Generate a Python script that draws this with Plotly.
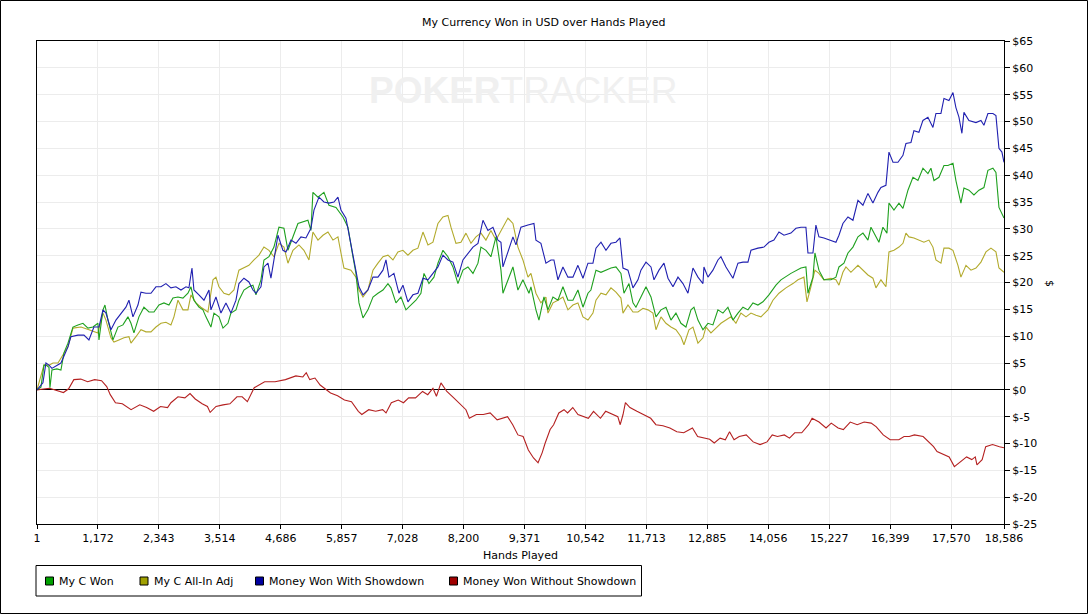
import plotly.graph_objects as go

# ---- data (hands played -> dollars) ----
green_hands = [1, 77, 135, 173, 231, 250, 288, 384, 461, 519, 596, 692, 788, 884, 980, 1076, 1172, 1192, 1269, 1307,
               1365, 1461, 1557, 1653, 1749, 1807, 1864, 1960, 2056, 2153, 2249, 2345, 2441, 2537, 2614, 2710, 2806,
               2902, 2960, 3017, 3113, 3190, 3248, 3344, 3402, 3498, 3575, 3671, 3728, 3825, 3882, 3978, 4074, 4151,
               4209, 4305, 4363, 4459, 4555, 4651, 4747, 4824, 5016, 5208, 5266, 5304, 5401, 5516, 5612, 5747, 5881,
               5977, 6073, 6131, 6189, 6266, 6361, 6458, 6554, 6650, 6746, 6804, 6900, 6996, 7092, 7188, 7284, 7380,
               7438, 7534, 7630, 7707, 7803, 7899, 7995, 8091, 8187, 8283, 8380, 8476, 8533, 8629, 8725, 8822, 8918,
               8956, 9052, 9148, 9244, 9340, 9456, 9494, 9590, 9648, 9744, 9821, 9917, 10013, 10109, 10205, 10301,
               10397, 10494, 10590, 10647, 10744, 10840, 10936, 11032, 11128, 11224, 11282, 11378, 11455, 11512, 11608,
               11705, 11801, 11897, 11993, 12089, 12185, 12281, 12377, 12473, 12570, 12627, 12704, 12800, 12896, 12992,
               13088, 13184, 13280, 13376, 13473, 13569, 13665, 13761, 13857, 13953, 14068, 14203, 14299, 14491, 14683,
               14779, 14818, 14914, 14952, 15029, 15125, 15260, 15356, 15414, 15510, 15587, 15683, 15779, 15875, 15971,
               16029, 16125, 16182, 16259, 16336, 16375, 16471, 16567, 16644, 16740, 16836, 16932, 17028, 17124, 17182,
               17240, 17336, 17432, 17509, 17605, 17662, 17758, 17816, 17912, 18008, 18104, 18200, 18277, 18373, 18431,
               18489, 18586]
my_c_won = [0, 0.5, 4.6, 4.6, 4.2, 0.4, 3.7, 3.9, 3.7, 6.9, 8.7, 11.7, 12.1, 12.4, 11.5, 11.7, 12.4, 9.3, 14.9, 15.8,
            13.0, 9.3, 11.7, 12.1, 13.6, 12.4, 10.6, 13.6, 15.4, 14.5, 14.5, 15.8, 16.2, 15.8, 17.1, 17.3, 17.1,
            18.0, 19.2, 16.7, 15.4, 14.9, 13.6, 11.7, 14.3, 13.6, 11.5, 12.4, 14.3, 14.9, 16.7, 18.6, 19.2, 19.5,
            17.7, 20.5, 24.2, 24.8, 26.6, 30.3, 30.1, 26.0, 31.0, 31.6, 29.7, 36.8, 35.9, 36.8, 34.4, 34.0, 32.2,
            30.3, 24.8, 21.7, 16.2, 13.4, 14.9, 17.3, 18.0, 18.6, 19.8, 19.0, 16.2, 17.3, 14.9, 15.8, 16.7, 18.0,
            21.7, 19.8, 21.0, 23.6, 26.0, 24.8, 22.9, 19.8, 22.3, 22.9, 21.7, 23.6, 26.6, 26.0, 24.8, 28.5, 22.3,
            18.0, 20.5, 22.9, 18.6, 20.5, 18.0, 19.2, 14.9, 13.0, 17.3, 14.9, 17.3, 16.7, 19.2, 16.7, 16.7,
            18.6, 15.4, 18.0, 18.6, 22.3, 21.9, 22.3, 22.7, 22.9, 21.7, 18.0, 19.8, 16.2, 15.4, 17.3,
            19.2, 17.3, 13.6, 14.9, 15.4, 13.0, 14.3, 12.4, 11.7, 14.9, 15.4, 13.0, 11.2, 12.4, 12.1,
            14.9, 14.3, 15.4, 13.0, 14.3, 15.4, 14.9, 16.2, 15.8, 16.4, 17.7, 19.5, 20.5, 21.7, 22.7,
            22.9, 18.0, 21.0, 25.5, 22.3, 20.5, 20.5, 21.0, 22.9, 23.6, 25.5, 26.6, 28.5, 29.2, 27.9,
            30.3, 28.5, 27.5, 30.3, 29.2, 34.8, 33.5, 34.8, 33.8, 37.2, 39.6, 39.0, 41.3, 40.3, 41.3,
            39.0, 39.6, 41.8, 41.8, 42.2, 39.0, 34.8, 37.6, 37.2, 36.3, 37.2, 37.7, 40.9, 41.3, 40.5,
            34.0, 32.0]

olive_hands = [1, 77, 135, 231, 308, 404, 500, 596, 692, 846, 999, 1172, 1269, 1326, 1422, 1480, 1576, 1672, 1768,
               1807, 1903, 1999, 2095, 2191, 2287, 2383, 2479, 2575, 2633, 2710, 2806, 2902, 2960, 3056, 3152, 3286,
               3383, 3440, 3498, 3594, 3690, 3786, 3882, 3978, 4074, 4171, 4267, 4363, 4459, 4555, 4651, 4747, 4824,
               4920, 5035, 5131, 5228, 5304, 5401, 5497, 5593, 5689, 5785, 5843, 5900, 6035, 6131, 6189, 6266, 6361,
               6458, 6554, 6650, 6746, 6842, 6938, 7034, 7130, 7226, 7322, 7419, 7515, 7611, 7707, 7803, 7899, 7957,
               8053, 8149, 8245, 8341, 8437, 8533, 8629, 8725, 8822, 8918, 9052, 9148, 9244, 9340, 9437, 9494, 9590,
               9686, 9782, 9821, 9917, 10013, 10109, 10205, 10301, 10397, 10494, 10590, 10686, 10744, 10840, 10936,
               11032, 11128, 11224, 11263, 11359, 11455, 11551, 11647, 11743, 11839, 11897, 11993, 12089, 12185, 12281,
               12377, 12435, 12531, 12608, 12704, 12800, 12858, 12954, 13050, 13146, 13242, 13338, 13434, 13530, 13627,
               13723, 13819, 13915, 14049, 14145, 14261, 14395, 14530, 14626, 14741, 14799, 14875, 14952, 15029, 15125,
               15260, 15356, 15414, 15490, 15548, 15644, 15779, 15875, 15971, 16067, 16125, 16221, 16317, 16375, 16471,
               16567, 16644, 16701, 16759, 16855, 16951, 17047, 17143, 17220, 17278, 17374, 17432, 17528, 17605, 17701,
               17758, 17855, 17951, 18047, 18143, 18239, 18335, 18431, 18489, 18586]
my_c_allin_adj = [0, 2.5, 4.6, 4.6, 5.0, 5.0, 6.5, 8.0, 11.5, 11.7, 11.2, 10.6, 14.3, 13.0, 9.7, 8.9, 9.3, 9.7, 9.9,
                  8.7, 9.9, 11.2, 10.8, 10.8, 11.7, 12.4, 12.6, 12.1, 13.6, 16.7, 14.9, 14.9, 17.7, 16.2, 15.4, 14.5,
                  20.5, 21.0, 19.2, 18.0, 17.7, 18.6, 22.3, 22.7, 23.2, 24.2, 25.1, 26.6, 26.0, 24.8, 27.3, 26.6, 23.6,
                  26.0, 27.0, 26.0, 24.2, 29.4, 27.9, 28.8, 29.4, 27.9, 28.5, 25.5, 22.7, 22.3, 21.0, 18.6, 17.3, 18.6,
                  22.3, 23.6, 24.8, 25.1, 24.2, 25.7, 26.0, 25.1, 26.0, 26.4, 29.4, 27.0, 27.5, 31.0, 32.2, 32.5, 30.3,
                  27.3, 27.5, 29.2, 27.3, 28.5, 29.2, 27.9, 29.7, 27.9, 29.7, 32.0, 31.0, 26.6, 24.2, 21.0, 21.7, 18.0,
                  16.2, 17.3, 14.3, 16.2, 16.7, 17.3, 14.9, 15.8, 16.2, 13.6, 13.0, 14.3, 16.7, 18.0, 17.7,
                  19.0, 18.2, 17.1, 14.3, 15.8, 14.5, 14.5, 15.2, 14.9, 14.3, 11.2, 13.6, 12.4, 11.7, 11.2,
                  9.9, 8.4, 11.2, 11.7, 8.7, 9.7, 11.7, 10.6, 11.5, 12.4, 13.0, 13.6, 12.4, 14.3, 13.6,
                  14.3, 13.9, 13.6, 14.9, 16.7, 18.0, 19.0, 19.8, 20.5, 21.0, 16.4, 19.2, 22.3, 21.7, 20.5,
                  20.8, 20.5, 19.5, 21.9, 22.9, 21.9, 23.2, 22.3, 21.4, 20.8, 19.0, 20.5, 19.2, 25.7, 26.0,
                  26.6, 27.3, 29.2, 28.5, 28.3, 27.9, 27.5, 27.9, 26.6, 24.2, 23.6, 26.4, 26.4, 26.0, 23.2,
                  21.0, 23.2, 22.3, 22.7, 23.8, 25.7, 26.4, 25.7, 22.7, 21.9]

blue_hands = [1, 115, 173, 231, 288, 384, 461, 596, 653, 788, 903, 999, 1095, 1192, 1269, 1326, 1422, 1518, 1614, 1710,
              1768, 1845, 1941, 1999, 2095, 2191, 2287, 2383, 2479, 2575, 2671, 2768, 2864, 2921, 2979, 3017, 3113,
              3210, 3306, 3344, 3440, 3536, 3632, 3728, 3825, 3882, 3978, 4074, 4151, 4209, 4305, 4363, 4440, 4497,
              4555, 4632, 4728, 4786, 4882, 4978, 5074, 5170, 5266, 5324, 5420, 5516, 5612, 5708, 5785, 5843, 5939,
              5996, 6073, 6131, 6189, 6266, 6361, 6458, 6554, 6650, 6708, 6765, 6861, 6957, 7034, 7130, 7226, 7322,
              7419, 7515, 7611, 7707, 7803, 7899, 7995, 8091, 8187, 8283, 8380, 8476, 8572, 8668, 8764, 8860, 8918,
              8956, 9052, 9148, 9206, 9302, 9437, 9552, 9590, 9686, 9782, 9879, 9936, 10013, 10109, 10205, 10301,
              10397, 10494, 10590, 10686, 10744, 10840, 10936, 11032, 11128, 11205, 11263, 11359, 11455, 11551, 11608,
              11705, 11801, 11859, 11955, 12051, 12128, 12224, 12320, 12416, 12512, 12608, 12704, 12800, 12819, 12896,
              12992, 13088, 13146, 13242, 13376, 13473, 13569, 13665, 13723, 13857, 13972, 14068, 14164, 14261, 14357,
              14491, 14587, 14683, 14779, 14818, 14914, 14971, 15029, 15125, 15260, 15356, 15414, 15490, 15587, 15683,
              15779, 15875, 15971, 16067, 16163, 16221, 16317, 16375, 16452, 16548, 16644, 16701, 16798, 16855, 16951,
              17028, 17124, 17220, 17278, 17374, 17432, 17528, 17605, 17662, 17720, 17777, 17816, 17912, 18047, 18143,
              18200, 18277, 18373, 18431, 18489, 18546, 18586]
won_with_sd = [0, 1.3, 5.0, 4.6, 4.0, 4.6, 5.0, 8.0, 9.9, 10.2, 10.2, 9.3, 11.7, 11.7, 14.9, 14.3, 11.2, 13.0, 14.3, 15.4,
               16.7, 13.6, 15.8, 18.2, 18.0, 18.0, 19.2, 19.2, 19.8, 19.0, 19.2, 18.6, 19.2, 19.0, 22.7, 18.6, 17.7,
               16.7, 18.6, 14.9, 17.3, 14.3, 16.2, 14.3, 16.7, 19.8, 20.8, 20.1, 18.6, 18.0, 19.2, 22.9, 23.6, 20.8,
               24.2, 28.8, 26.0, 25.7, 27.9, 27.3, 28.5, 28.3, 30.1, 33.5, 35.9, 35.0, 34.8, 35.0, 35.9, 33.5, 32.0,
               29.2, 25.5, 22.3, 19.2, 17.7, 18.6, 21.0, 21.0, 22.3, 24.2, 21.0, 21.7, 18.0, 19.5, 16.4, 17.7, 18.0,
               20.8, 20.5, 21.7, 22.9, 25.1, 24.2, 23.8, 21.0, 24.2, 25.5, 26.6, 27.3, 31.6, 29.7, 30.3, 27.9, 27.5,
               22.9, 25.5, 28.5, 27.0, 30.3, 30.7, 31.0, 27.9, 27.3, 23.6, 24.2, 24.2, 20.5, 22.9, 21.0, 21.0,
               23.2, 20.8, 23.6, 23.6, 26.4, 27.5, 26.0, 27.3, 27.5, 28.3, 22.7, 22.3, 19.0, 20.5, 22.3,
               23.8, 22.9, 20.5, 22.3, 23.6, 20.8, 19.2, 21.0, 19.8, 18.0, 22.7, 21.0, 19.8, 22.9, 21.0,
               22.3, 24.2, 24.8, 22.9, 20.8, 23.6, 23.8, 23.8, 26.0, 26.4, 26.6, 27.5, 27.9, 29.4, 28.8,
               29.2, 30.1, 30.3, 30.3, 25.5, 25.5, 30.7, 28.5, 28.3, 27.9, 27.5, 28.8, 31.0, 32.2, 31.6,
               35.3, 34.4, 36.6, 34.8, 36.8, 37.7, 38.1, 44.3, 42.4, 42.4, 43.7, 45.9, 46.1, 48.3, 48.0,
               50.2, 50.8, 48.9, 51.5, 51.5, 54.3, 53.9, 55.4, 52.6, 50.8, 47.8, 51.7, 50.2, 49.8, 50.2,
               49.3, 51.5, 51.5, 51.1, 45.0, 44.3, 42.4]

red_hands = [1, 242, 509, 609, 709, 842, 974, 1109, 1242, 1341, 1409, 1509, 1641, 1809, 1976, 2108, 2243, 2375, 2510,
             2575, 2710, 2843, 2942, 3042, 3175, 3277, 3329, 3442, 3577, 3709, 3844, 3944, 4044, 4176, 4376, 4576,
             4776, 4976, 5110, 5176, 5243, 5343, 5443, 5543, 5643, 5778, 5910, 6045, 6177, 6244, 6377, 6510, 6644,
             6709, 6811, 6944, 7044, 7144, 7276, 7411, 7511, 7611, 7678, 7765, 7878, 8011, 8145, 8245, 8310, 8445,
             8578, 8710, 8845, 9045, 9144, 9244, 9344, 9444, 9544, 9631, 9711, 9765, 9863, 9930, 10030, 10130, 10198,
             10298, 10398, 10497, 10597, 10697, 10830, 10930, 11064, 11164, 11210, 11264, 11310, 11397, 11531, 11664,
             11796, 11896, 12031, 12164, 12298, 12431, 12598, 12698, 12831, 12930, 13017, 13130, 13230, 13311, 13398,
             13497, 13632, 13765, 13897, 14032, 14132, 14232, 14364, 14464, 14564, 14699, 14831, 14898, 15031, 15166,
             15266, 15398, 15498, 15631, 15765, 15898, 16033, 16132, 16265, 16398, 16565, 16665, 16765, 16865, 17032,
             17132, 17232, 17299, 17432, 17532, 17632, 17732, 17867, 17967, 18034, 18066, 18166, 18234, 18366, 18499,
             18586]
won_without_sd = [0, 0.3, -0.5, 0.2, 1.9, 2.0, 1.5, 1.9, 1.7, 0.6, -0.9, -2.4, -2.6, -3.7, -2.8, -3.3, -4.0, -3.1, -3.3,
                  -2.4, -1.3, -1.5, -0.7, -1.7, -2.6, -3.1, -4.2, -3.1, -2.8, -2.6, -1.3, -1.3, -2.2, 0.4, 1.5, 1.5,
                  1.9, 2.6, 2.4, 3.2, 1.9, 2.2, 0.9, 0.2, -0.6, -1.1, -1.9, -2.2, -4.0, -4.6, -3.7, -4.0, -3.7,
                  -4.3, -2.4, -1.9, -2.4, -1.5, -1.5, -0.3, -0.9, 0.3, -1.2, 1.3, -0.3, -1.5, -2.8, -3.7, -5.3, -4.6,
                  -4.6, -4.3, -5.6, -5.0, -6.5, -8.4, -8.7, -11.2, -12.7, -13.6, -11.7, -10.0, -7.4, -6.5, -4.3, -3.7, -4.3,
                  -3.3, -4.6, -5.0, -5.3, -4.0, -5.3, -4.0, -4.6, -5.0, -6.5, -4.6, -2.4, -3.3, -4.0, -4.6,
                  -5.3, -6.5, -6.7, -7.1, -7.8, -8.0, -7.1, -8.7, -9.0, -9.2, -9.9, -9.0, -9.3, -7.8, -9.3,
                  -8.7, -8.4, -9.7, -10.2, -9.7, -8.4, -8.7, -8.4, -9.0, -8.0, -8.0, -6.5, -5.3, -6.0, -7.1,
                  -6.2, -7.1, -7.4, -6.0, -6.5, -6.0, -6.2, -6.9, -8.4, -9.3, -9.3, -8.7, -8.7, -8.4, -8.7,
                  -9.7, -10.6, -11.5, -12.1, -12.5, -14.3, -13.6, -12.5, -13.0, -12.5, -14.0, -13.0, -10.6, -10.2, -10.6,
                  -10.8]

series_names = ["My C Won", "My C All-In Adj", "Money Won With Showdown", "Money Won Without Showdown"]
series_colors = ["#1ea01e", "#b2aa2c", "#2020b0", "#b42020"]
swatch_colors = ["#00a000", "#a0a000", "#0000a0", "#a00000"]

x_ticks = [1, 1172, 2343, 3514, 4686, 5857, 7028, 8200, 9371, 10542, 11713, 12885, 14056, 15227, 16399, 17570, 18586]
y_ticks = list(range(-25, 70, 5))

series = [(green_hands, my_c_won), (olive_hands, my_c_allin_adj),
          (blue_hands, won_with_sd), (red_hands, won_without_sd)]

# plot area in pixels (figure is 1088 x 615)
L, R, T, B = 37, 1004, 41, 524


def px(x):
    return (x - L) / (R - L)


def py(y):
    return (B - y) / (B - T)


fig = go.Figure()

order = [3, 1, 0, 2]
for i in order:
    hx, hy = series[i]
    fig.add_trace(go.Scatter(x=hx, y=hy, mode="lines", line=dict(color=series_colors[i], width=1.1),
                             showlegend=False, hoverinfo="skip"))

font = "DejaVu Sans, Verdana, sans-serif"

annotations = [
    dict(text="My Currency Won in USD over Hands Played", x=px(543), y=py(22)),
    dict(text="Hands Played", x=px(520), y=py(555)),
    dict(text="$", x=px(1050), y=py(283), textangle=90),
    dict(text="<b>POKER</b>TRACKER", x=px(523), y=py(90),
         font=dict(size=37, color="#f0f0f0", family="Liberation Sans Narrow, Arial Narrow, Arial, sans-serif")),
]

shapes = [
    # outer frame of the image
    dict(type="rect", x0=px(0.5), x1=px(1087.5), y0=py(613.5), y1=py(0.5),
         line=dict(color="black", width=1)),
    # legend box
    dict(type="rect", x0=px(36), x1=px(641.5), y0=py(596), y1=py(565.5),
         line=dict(color="black", width=1), fillcolor="white"),
]

# hand-made legend (square swatches, tight spacing as in the original)
swatch_left = [45.5, 140, 255.5, 449.5]
text_left = [57, 151.5, 266.5, 461]
for name, col, sx, tx in zip(series_names, swatch_colors, swatch_left, text_left):
    shapes.append(dict(type="rect", x0=px(sx), x1=px(sx + 8), y0=py(585), y1=py(577),
                       line=dict(color="black", width=1), fillcolor=col))
    annotations.append(dict(text=name, x=px(tx), y=py(581), xanchor="left"))

for a in annotations:
    a.setdefault("xref", "paper")
    a.setdefault("yref", "paper")
    a.setdefault("showarrow", False)
    a.setdefault("xanchor", "center")
    a.setdefault("yanchor", "middle")
    a.setdefault("font", dict(size=11))
for s in shapes:
    s["xref"] = "paper"
    s["yref"] = "paper"

fig.update_layout(
    width=1088, height=615,
    margin=dict(l=L, r=1088 - R, t=T, b=615 - B),
    paper_bgcolor="white", plot_bgcolor="white",
    font=dict(family=font, size=11, color="black"),
    showlegend=False,
    xaxis=dict(range=[1, 18586], tickvals=x_ticks, ticktext=[f"{t:,}" for t in x_ticks],
               showgrid=True, gridcolor="#ececec", gridwidth=1, zeroline=False,
               showline=True, linecolor="black", linewidth=1, mirror=True,
               ticks="outside", ticklen=4, tickcolor="black", tickfont=dict(size=11)),
    yaxis=dict(range=[-25, 65], side="right", tickvals=y_ticks, ticktext=[f"${v}" for v in y_ticks],
               showgrid=True, gridcolor="#ececec", gridwidth=1,
               zeroline=True, zerolinecolor="black", zerolinewidth=1,
               showline=True, linecolor="black", linewidth=1, mirror=True,
               ticks="outside", ticklen=5, tickcolor="black", tickfont=dict(size=11)),
    annotations=annotations,
    shapes=shapes,
)

fig.write_html("out.html", config={"displayModeBar": False},
               post_script="document.body.style.margin='0px';")
